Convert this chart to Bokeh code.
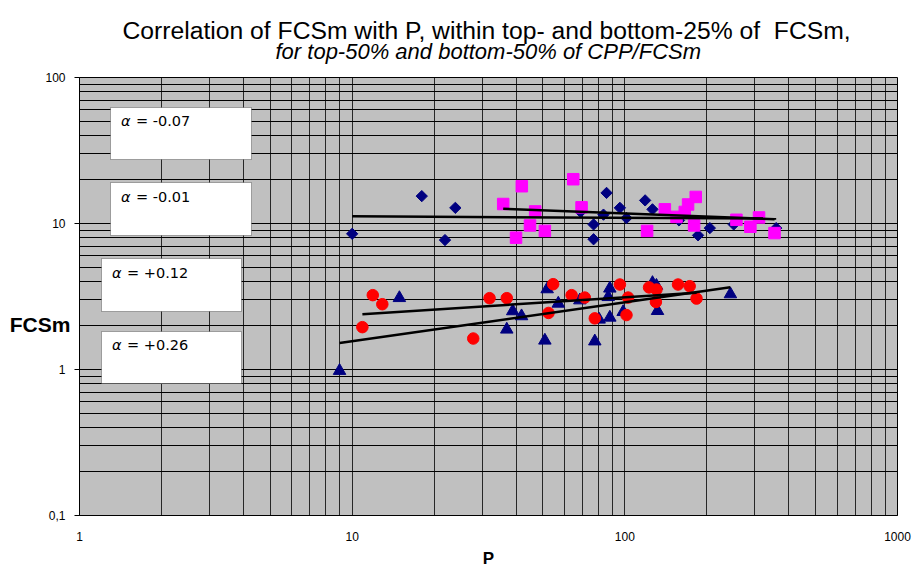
import numpy as np
from bokeh.plotting import figure
from bokeh.layouts import column
from bokeh.models import (FixedTicker, CustomJSTickFormatter, Label, BoxAnnotation,
                          Range1d)
from bokeh.embed import file_html
from bokeh.resources import INLINE

# ---------------- data ----------------
title_text = "Correlation of FCSm with P, within top- and bottom-25% of  FCSm,"
subtitle_text = "for top-50% and bottom-50% of CPP/FCSm"
x_label = "P"
y_label = "FCSm"
x_ticks = [1, 10, 100, 1000]
y_ticks = [0.1, 1, 10, 100]
x_minor = [m * 10 ** k for k in range(0, 3) for m in range(2, 10)]
y_minor = [m * 10 ** k for k in range(-1, 2) for m in range(2, 10)]
alpha_values = ["-0.07", "-0.01", "+0.12", "+0.26"]

# top-25% FCSm, series A (navy diamonds)
diamond_p = [10, 18.0, 21.9, 23.9, 68.8, 76.8, 76.8, 83.5, 85.7, 95.9, 101.4,
             118.7, 126.3, 158, 185.6, 205, 250.8, 359]
diamond_f = [8.5, 15.4, 7.7, 12.8, 12.0, 9.85, 7.8, 11.5, 16.2, 12.8, 10.9,
             14.4, 12.5, 10.5, 8.3, 9.3, 9.85, 9.3]
# top-25% FCSm, series B (magenta squares)
square_p = [35.8, 39.9, 41.9, 44.9, 46.9, 50.9, 64.7, 69.4, 120.7, 140.2, 154.7,
            165.9, 170.6, 179.5, 182, 256.6, 288.7, 310.6, 354]
square_f = [13.6, 8.0, 18.0, 9.7, 12.1, 8.9, 20.1, 12.9, 8.9, 12.5, 11.1,
            12.0, 13.5, 9.7, 15.2, 10.6, 9.5, 11.0, 8.6]
# bottom-25% FCSm, series C (red circles)
circle_p = [10.9, 11.9, 12.9, 27.8, 31.9, 36.9, 52.5, 54.6, 63.8, 71.3, 77.6,
            95.9, 101.4, 102.8, 122.7, 130, 130.6, 156.7, 172.9, 183.2]
circle_f = [1.95, 3.23, 2.80, 1.63, 3.08, 3.08, 2.44, 3.84, 3.23, 3.11, 2.24,
            3.82, 2.36, 3.11, 3.65, 2.90, 3.53, 3.82, 3.72, 3.06]
# bottom-25% FCSm, series D (navy triangles)
triangle_p = [8.99, 14.9, 36.9, 38.8, 41.8, 50.9, 51.9, 57.0, 68.4, 77.6, 80.5,
              86.9, 88.1, 88.1, 98.6, 126.3, 130.6, 131.8, 243.9]
triangle_f = [0.98, 3.09, 1.88, 2.51, 2.32, 1.58, 3.55, 2.83, 2.98, 1.56, 2.20,
              3.14, 3.59, 2.27, 2.48, 3.92, 3.75, 2.52, 3.28]

# power-law trend lines (end points): squares, diamonds, circles, triangles
trend_p0 = [35.8, 10.0, 10.9, 8.99]
trend_p1 = [354, 359, 183.2, 243.9]
trend_f0 = [12.6, 11.2, 2.39, 1.52]
trend_f1 = [10.7, 10.8, 3.36, 3.66]

# ---------------- layout (page pixels) ----------------
W = 912
TOP_H = 69
FX0, FX1, FY0, FY1 = 79, 897, 77, 515
MAIN_H = 501


def dx(px):
    return 10 ** ((px - FX0) / (FX1 - FX0) * 3)


def dy(py):
    return 10 ** (2 - (py - FY0) / (FY1 - FY0) * 3)


# ---------- title strip (its frame is aligned with the chart's frame by the column) ----------
top = figure(width=W, height=TOP_H, x_range=Range1d(FX0, FX1), y_range=Range1d(TOP_H, 0),
             min_border=0, min_border_left=FX0, min_border_right=W - FX1,
             toolbar_location=None, output_backend="svg",
             x_axis_location=None, y_axis_location=None,
             background_fill_color="white", border_fill_color="white")
top.outline_line_color = None
top.grid.visible = False
top.add_layout(Label(x=122, y=30, text=title_text.replace("  ", " \u00a0"),
                     text_font="Liberation Sans", text_font_size="24.7px",
                     text_align="left", text_baseline="middle", text_color="black"))
top.add_layout(Label(x=275, y=50.5, text=subtitle_text,
                     text_font="Liberation Sans", text_font_size="22px",
                     text_font_style="italic",
                     text_align="left", text_baseline="middle", text_color="black"))

# ---------- main chart ----------
p = figure(width=W, height=MAIN_H, x_axis_type="log", y_axis_type="log",
           x_range=(1, 1000), y_range=(0.1, 100),
           min_border_left=FX0, min_border_right=W - FX1,
           min_border_top=FY0 - TOP_H, min_border_bottom=MAIN_H - (FY1 - TOP_H),
           output_backend="svg", toolbar_location=None,
           border_fill_color="white")
p.background_fill_color = "#C0C0C0"
p.outline_line_color = "black"
p.outline_line_width = 1

xt = FixedTicker(ticks=x_ticks, minor_ticks=x_minor)
yt = FixedTicker(ticks=y_ticks, minor_ticks=y_minor)
p.xaxis.ticker = xt
p.yaxis.ticker = yt
p.xgrid.ticker = xt
p.ygrid.ticker = yt
fmt = CustomJSTickFormatter(code="return tick < 1 ? String(tick).replace('.', ',') : String(tick);")
p.xaxis.formatter = fmt
p.yaxis.formatter = fmt

for ax in (p.xaxis, p.yaxis):
    ax.axis_line_color = "black"
    ax.major_tick_line_color = "black"
    ax.minor_tick_out = 0
    ax.minor_tick_in = 0
    ax.major_tick_in = 0
    ax.major_label_text_font = "Liberation Sans"
    ax.major_label_text_font_size = "12px"
    ax.major_label_text_color = "black"
    ax.axis_label_text_font = "Liberation Sans"
    ax.axis_label_text_font_style = "bold"
    ax.axis_label_text_color = "black"
p.xaxis.major_tick_out = 0
p.xaxis.major_label_standoff = 16
p.xaxis.axis_label = x_label
p.xaxis.axis_label_text_font_size = "17px"
p.xaxis.axis_label_standoff = 5

p.yaxis.major_tick_out = 5
p.yaxis.major_label_standoff = 9
# horizontal name, pushed down below the middle of the axis as in the reference
p.yaxis.axis_label = "\n\n" + y_label
p.yaxis.axis_label_orientation = "horizontal"
p.yaxis.axis_label_text_font_size = "21px"
p.yaxis.axis_label_standoff = -28

for g in (p.xgrid, p.ygrid):
    g.grid_line_color = "black"
    g.grid_line_width = 1
    g.minor_grid_line_color = "black"
    g.minor_grid_line_width = 1
p.xgrid.grid_line_alpha = 0.8
p.xgrid.minor_grid_line_alpha = 0.8

# ---------------- marks ----------------
p.scatter(diamond_p, diamond_f, marker="square", angle=np.pi / 4, size=8,
          fill_color="#000080", line_color="#000080")
p.scatter(square_p, square_f, marker="square", size=11.5,
          fill_color="#FF00FF", line_color="#FF00FF")
p.scatter(triangle_p, triangle_f, marker="triangle", size=12.5,
          fill_color="#000080", line_color="#000080")
p.scatter(circle_p, circle_f, marker="circle", size=11.5,
          fill_color="#FF0000", line_color="#FF0000")
p.segment(x0=trend_p0, y0=trend_f0, x1=trend_p1, y1=trend_f1,
          line_color="black", line_width=2.5)

# ---------------- annotation boxes ----------------
boxes_px = [(110, 251, 107, 159), (110, 251, 182, 235),
            (101, 241, 258, 311), (101, 241, 331, 383)]
text_py = [120, 196, 272, 344]
for (l, r, t, b), ty, av in zip(boxes_px, text_py, alpha_values):
    p.add_layout(BoxAnnotation(left=dx(l), right=dx(r), top=dy(t), bottom=dy(b),
                               fill_color="white", fill_alpha=1.0,
                               line_color="black", line_width=1))
    p.add_layout(Label(x=dx(l + 10.5), y=dy(ty), text="\u03b1",
                       text_font="DejaVu Sans", text_font_size="14.5px",
                       text_font_style="italic", text_baseline="middle",
                       text_align="left", text_color="black"))
    p.add_layout(Label(x=dx(l + 25.5), y=dy(ty), text="= " + av,
                       text_font="DejaVu Sans", text_font_size="14.5px",
                       text_baseline="middle", text_align="left",
                       text_color="black"))

layout = column(top, p, spacing=0)
open("out.html", "w").write(file_html(layout, INLINE))
